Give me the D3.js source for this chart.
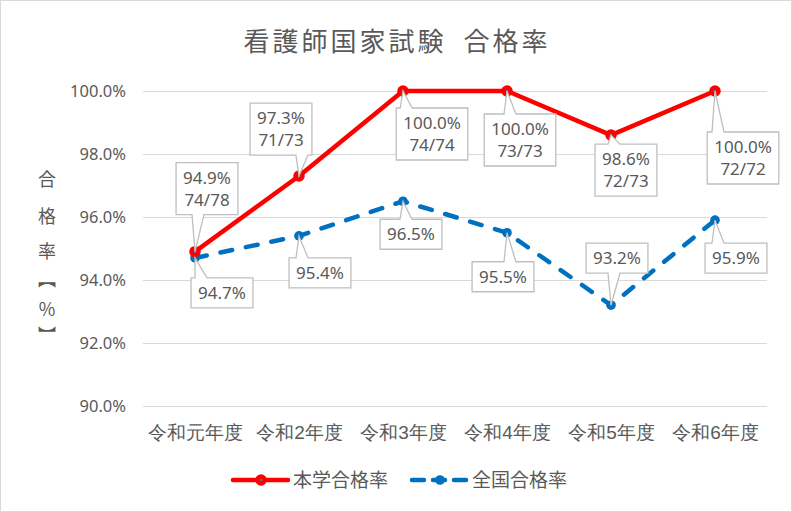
<!DOCTYPE html>
<html>
<head>
<meta charset="utf-8">
<script src="https://cdn.jsdelivr.net/npm/d3@7"></script>
<style>
  html, body { margin: 0; padding: 0; background: #fff; }
  svg { display: block; font-family: "Noto Sans CJK JP", "Noto Sans", sans-serif; }
</style>
</head>
<body>
<div id="chart"></div>
<script>
// DATA
const categories = ['令和元年度', '令和2年度', '令和3年度', '令和4年度', '令和5年度', '令和6年度'];
const schoolRates = [94.9, 97.3, 100.0, 100.0, 98.6, 100.0];
const schoolCounts = ['74/78', '71/73', '74/74', '73/73', '72/73', '72/72'];
const nationalRates = [94.7, 95.4, 96.5, 95.5, 93.2, 95.9];
const yTicks = [90, 92, 94, 96, 98, 100];
const seriesNames = ['本学合格率', '全国合格率'];

// label box placement (box centre relative to point)
const schoolLabelOffsets = [[12, -63], [-18, -47], [29, 43], [13, 49], [15, 35], [28, 67]];
const nationalLabelOffsets = [[27, 35], [21, 37], [8, 33], [-4, 44], [6, -47], [21, 38]];

// DIMENSIONS
const width = 792;
const height = 512;
const textColor = '#595959';
const red = '#ff0000';
const blue = '#0070c0';

const svg = d3.select('#chart').append('svg')
  .attr('width', width)
  .attr('height', height);

svg.append('rect')
  .attr('x', 0.5).attr('y', 0.5)
  .attr('width', width - 1).attr('height', height - 1)
  .attr('fill', '#fff')
  .attr('stroke', '#d9d9d9');

// SCALES
const x = d3.scalePoint().domain(categories).range([143, 767]).padding(0.5);
const y = d3.scaleLinear().domain([90, 100]).range([406, 91]);

// title
const title = svg.append('text')
  .attr('x', 397).attr('y', 51)
  .attr('text-anchor', 'middle')
  .attr('fill', textColor)
  .style('font-size', '26px')
  .style('letter-spacing', '3px');
title.append('tspan').text('看護師国家試験');
title.append('tspan').style('font-size', '14px').text('　');
title.append('tspan').text('合格率');

// y axis title, stacked vertically
const yTitle = [['合', 186], ['格', 223], ['率', 258], ['︻', 286], ['%', 316], ['︼', 342]];
svg.append('g').selectAll('text')
  .data(yTitle)
  .enter().append('text')
  .attr('x', 47).attr('y', d => d[1])
  .attr('text-anchor', 'middle')
  .attr('fill', textColor)
  .style('font-size', '18px')
  .text(d => d[0]);

// GRID + Y AXIS
const yAxis = d3.axisLeft(y)
  .tickValues(yTicks)
  .tickSize(-(767 - 143))
  .tickPadding(17)
  .tickFormat(d => d.toFixed(1) + '%');

const yg = svg.append('g')
  .attr('transform', 'translate(143,0)')
  .call(yAxis);
yg.select('.domain').remove();
yg.selectAll('.tick line').attr('stroke', '#d9d9d9').attr('stroke-width', 1);
yg.selectAll('.tick text')
  .attr('fill', textColor)
  .style('font-size', '16.5px')
  .style('font-family', '"Noto Sans", "Noto Sans CJK JP", sans-serif');

// X AXIS
const xAxis = d3.axisBottom(x).tickSize(0).tickPadding(20);
const xg = svg.append('g')
  .attr('transform', 'translate(0,406)')
  .call(xAxis);
xg.select('.domain').remove();
xg.selectAll('.tick text')
  .attr('fill', textColor)
  .style('font-size', '19px');

// LINES
const line = d3.line()
  .x((d, i) => x(categories[i]))
  .y(d => y(d));

svg.append('path')
  .datum(nationalRates)
  .attr('d', line)
  .attr('fill', 'none')
  .attr('stroke', blue)
  .attr('stroke-width', 4.5)
  .attr('stroke-linecap', 'round')
  .attr('stroke-dasharray', '12 14');

svg.append('path')
  .datum(schoolRates)
  .attr('d', line)
  .attr('fill', 'none')
  .attr('stroke', red)
  .attr('stroke-width', 4.5)
  .attr('stroke-linejoin', 'round');

// MARKERS
svg.append('g').selectAll('circle')
  .data(nationalRates)
  .enter().append('circle')
  .attr('cx', (d, i) => x(categories[i]))
  .attr('cy', d => y(d))
  .attr('r', 4.8)
  .attr('fill', blue);

svg.append('g').selectAll('circle')
  .data(schoolRates)
  .enter().append('circle')
  .attr('cx', (d, i) => x(categories[i]))
  .attr('cy', d => y(d))
  .attr('r', 3.5)
  .attr('fill', '#4472c4')
  .attr('stroke', red)
  .attr('stroke-width', 4.5);

// CALLOUT LABELS
function callout(px, py, off, lines) {
  const lineH = 22;
  const g = svg.append('g');
  const t = g.append('text')
    .attr('fill', textColor)
    .attr('text-anchor', 'middle')
    .style('font-size', '17px')
    .style('font-family', '"Noto Sans", sans-serif');
  lines.forEach((s, k) => {
    t.append('tspan').attr('x', 0).attr('dy', k === 0 ? 0 : lineH).text(s);
  });
  let tw = 0;
  t.selectAll('tspan').each(function() { tw = Math.max(tw, this.getComputedTextLength()); });
  const bw = tw + 14;
  const bh = lines.length * lineH + 8;
  const cx = px + off[0];
  const cy = py + off[1];
  const x0 = cx - bw / 2, x1 = cx + bw / 2;
  const y0 = cy - bh / 2, y1 = cy + bh / 2;
  const b1 = Math.max(x0 + 4, Math.min(px - 3, x1 - 16));
  const b2 = b1 + 12;
  let d;
  if (py > y1) {
    d = `M${x0},${y0}H${x1}V${y1}H${b2}L${px},${py}L${b1},${y1}H${x0}Z`;
  } else {
    d = `M${x0},${y0}H${b1}L${px},${py}L${b2},${y0}H${x1}V${y1}H${x0}Z`;
  }
  g.insert('path', 'text')
    .attr('d', d)
    .attr('fill', '#fff')
    .attr('stroke', '#bfbfbf')
    .attr('stroke-width', 1.3);
  t.attr('transform', `translate(${cx},${y0 + 21})`);
}

nationalRates.forEach((v, i) => {
  callout(x(categories[i]), y(v), nationalLabelOffsets[i], [v.toFixed(1) + '%']);
});
schoolRates.forEach((v, i) => {
  callout(x(categories[i]), y(v), schoolLabelOffsets[i], [v.toFixed(1) + '%', schoolCounts[i]]);
});

// LEGEND
const legend = svg.append('g').attr('transform', 'translate(0,480)');
const legendItems = [
  { name: seriesNames[0], color: red, x0: 233, dash: null },
  { name: seriesNames[1], color: blue, x0: 412, dash: '12 9' }
];
legendItems.forEach(it => {
  legend.append('line')
    .attr('x1', it.x0).attr('x2', it.x0 + 55)
    .attr('y1', 0).attr('y2', 0)
    .attr('stroke', it.color)
    .attr('stroke-width', 4.5)
    .attr('stroke-linecap', 'round')
    .attr('stroke-dasharray', it.dash);
  if (it.color === red) {
    legend.append('circle').attr('cx', it.x0 + 28).attr('cy', 0).attr('r', 3.5)
      .attr('fill', '#4472c4').attr('stroke', red).attr('stroke-width', 4.5);
  } else {
    legend.append('circle').attr('cx', it.x0 + 28).attr('cy', 0).attr('r', 4.8)
      .attr('fill', blue);
  }
  legend.append('text')
    .attr('x', it.x0 + 60).attr('y', 7)
    .attr('fill', textColor)
    .style('font-size', '19px')
    .text(it.name);
});
</script>
</body>
</html>
